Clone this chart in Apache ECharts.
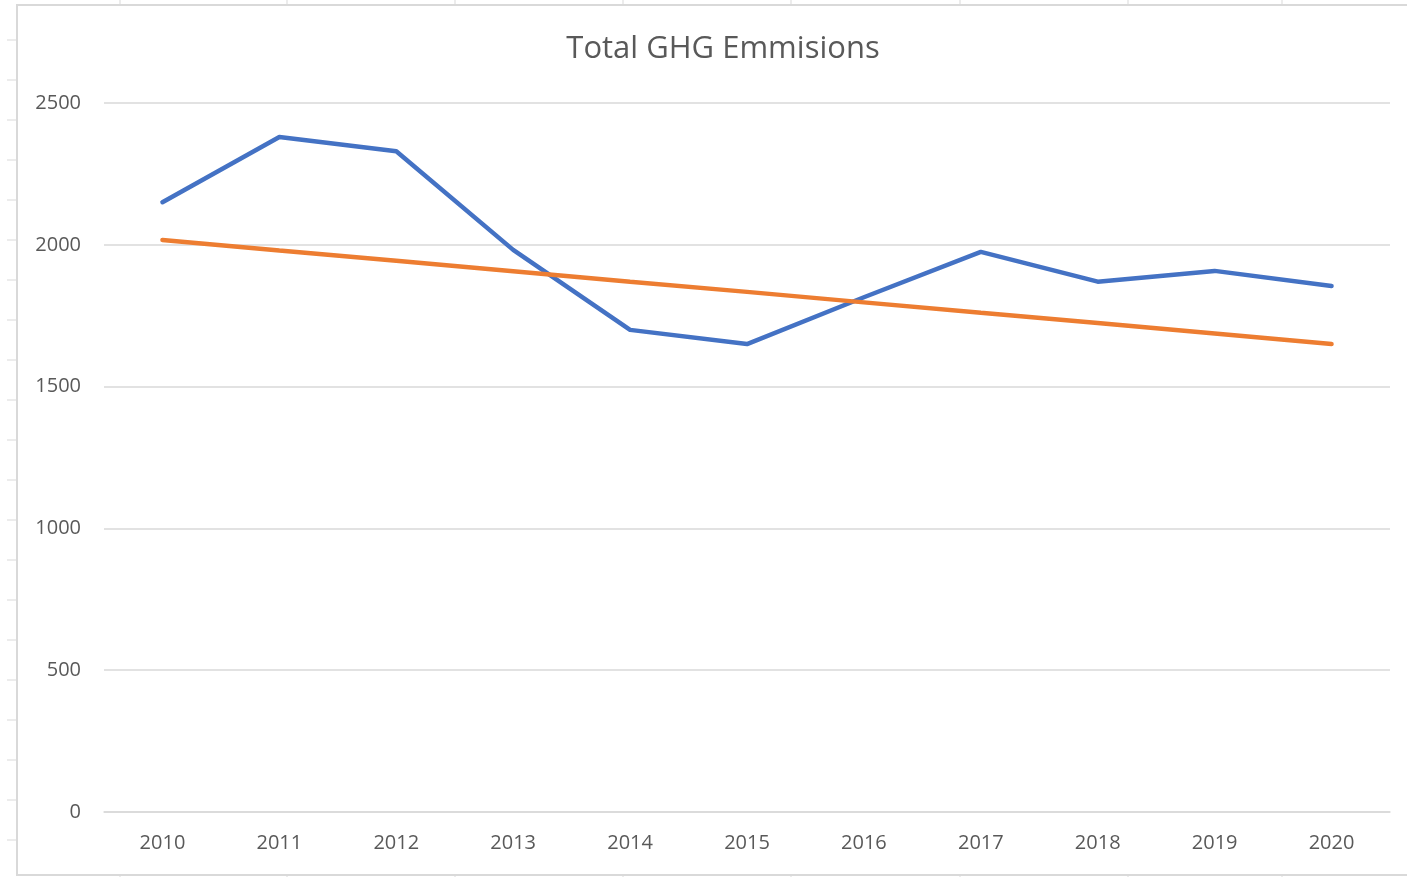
<!DOCTYPE html>
<html>
<head>
<meta charset="utf-8">
<script src="https://cdn.jsdelivr.net/npm/echarts@6/dist/echarts.min.js"></script>
<style>
  html, body { margin: 0; padding: 0; background: #fff; }
  #chart { width: 1407px; height: 877px; }
</style>
</head>
<body>
<div id="chart"></div>
<script>
var chart = echarts.init(document.getElementById('chart'));

// datos
var years = ['2010', '2011', '2012', '2013', '2014', '2015', '2016', '2017', '2018', '2019', '2020'];
var emissions = [2150, 2380, 2330, 1982, 1700, 1650, 1815, 1975, 1870, 1908, 1855];
var trend = [2017, 1980, 1944, 1907, 1870, 1834, 1797, 1760, 1724, 1687, 1650];
var yTicks = [0, 500, 1000, 1500, 2000, 2500];

var gridGray = '#d9d9d9';
var textGray = '#595959';
var font = '"Open Sans", Lato, sans-serif';

// bordes y marcas de la hoja de cálculo detrás del gráfico
var deco = [
  { type: 'rect', shape: { x: 17, y: 5, width: 1400, height: 870 },
    style: { fill: null, stroke: gridGray, lineWidth: 2 }, z: 0 }
];
[40, 80, 120, 160, 200, 240, 280, 320, 360, 400, 440, 480, 520, 560, 600, 640, 680, 720, 760, 800, 840].forEach(function (y) {
  deco.push({ type: 'line', shape: { x1: 7, y1: y, x2: 17, y2: y }, style: { stroke: gridGray, lineWidth: 1 } });
});
[120, 287, 455, 623, 791, 960, 1128, 1282].forEach(function (x) {
  deco.push({ type: 'line', shape: { x1: x, y1: 0, x2: x, y2: 5 }, style: { stroke: gridGray, lineWidth: 1 } });
  deco.push({ type: 'line', shape: { x1: x, y1: 875, x2: x, y2: 877 }, style: { stroke: gridGray, lineWidth: 1 } });
});

var option = {
  backgroundColor: '#fff',
  animation: false,
  title: {
    text: 'Total GHG Emmisions',
    left: 718,
    textAlign: 'center',
    top: 29,
    textStyle: { color: textGray, fontSize: 31, fontWeight: 'normal', fontFamily: font }
  },
  graphic: deco,
  grid: { left: 104, right: 17, top: 103, bottom: 65 },
  xAxis: {
    type: 'category',
    data: years,
    boundaryGap: true,
    axisLine: { show: true, lineStyle: { color: gridGray, width: 1.5 } },
    axisTick: { show: false },
    axisLabel: { color: textGray, fontSize: 20, margin: 21, fontFamily: font }
  },
  yAxis: {
    type: 'value',
    min: 0,
    max: 2500,
    interval: 500,
    axisLine: { show: false },
    axisTick: { show: false },
    splitLine: { lineStyle: { color: gridGray, width: 1.5 } },
    axisLabel: {
      color: textGray, fontSize: 20, margin: 23, fontFamily: font,
      formatter: function (v) { return yTicks.indexOf(v) >= 0 ? String(v) : ''; }
    }
  },
  series: [
    { name: 'Emissions', type: 'line', data: emissions, showSymbol: false,
      lineStyle: { color: '#4472c4', width: 4.5, cap: 'round', join: 'round' } },
    { name: 'Linear (Emissions)', type: 'line', data: trend, showSymbol: false,
      lineStyle: { color: '#ed7d31', width: 4.5, cap: 'round' } }
  ]
};

chart.setOption(option);
</script>
</body>
</html>
